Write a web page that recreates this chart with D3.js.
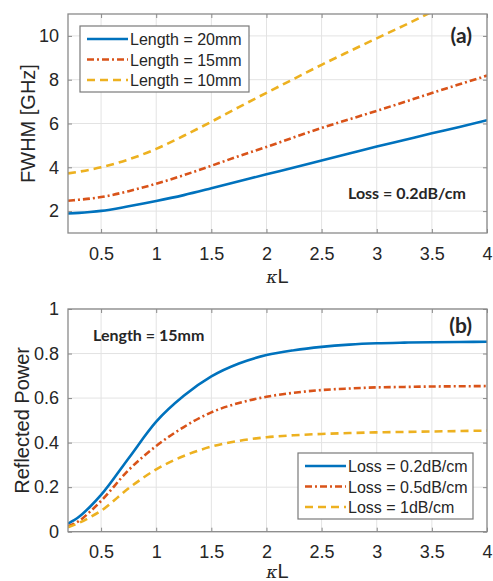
<!DOCTYPE html>
<html>
<head>
<meta charset="utf-8">
<script src="https://cdn.jsdelivr.net/npm/d3@7"></script>
<style>
  body { margin: 0; background: #fff; }
  text { font-family: "Liberation Sans", Arial, sans-serif; fill: #262626; }
</style>
</head>
<body>
<svg id="chart" width="493" height="581"></svg>
<script>
// kappa*L samples shared by every curve
var kL = [0.2, 0.3, 0.4, 0.5, 0.75, 1, 1.25, 1.5, 1.75, 2, 2.25, 2.5, 2.75, 3, 3.25, 3.5, 3.75, 4];
var xTicks = [0.5, 1, 1.5, 2, 2.5, 3, 3.5, 4];

// (a) FWHM [GHz], loss 0.2dB/cm
var fwhm20 = [1.89, 1.92, 1.96, 2.01, 2.22, 2.46, 2.73, 3.04, 3.36, 3.68, 3.99, 4.31, 4.63, 4.95, 5.25, 5.55, 5.84, 6.15];
var fwhm15 = [2.47, 2.52, 2.57, 2.64, 2.91, 3.25, 3.64, 4.07, 4.51, 4.93, 5.37, 5.80, 6.19, 6.58, 6.98, 7.39, 7.79, 8.19];
var fwhm10 = [3.72, 3.80, 3.89, 4.00, 4.36, 4.84, 5.44, 6.08, 6.75, 7.40, 8.04, 8.68, 9.29, 9.89, 10.48, 11.1, 11.7, 12.3];
var fwhmTicks = [2, 4, 6, 8, 10];
var lengthNames = ["Length = 20mm", "Length = 15mm", "Length = 10mm"];

// (b) reflected power, length 15mm
var pow02 = [0.036, 0.067, 0.112, 0.165, 0.330, 0.494, 0.610, 0.697, 0.755, 0.793, 0.815, 0.830, 0.840, 0.846, 0.849, 0.851, 0.852, 0.853];
var pow05 = [0.024, 0.048, 0.090, 0.138, 0.277, 0.385, 0.470, 0.536, 0.578, 0.606, 0.624, 0.636, 0.643, 0.648, 0.650, 0.652, 0.653, 0.654];
var pow1  = [0.020, 0.040, 0.065, 0.094, 0.195, 0.280, 0.340, 0.382, 0.408, 0.424, 0.433, 0.439, 0.443, 0.446, 0.448, 0.450, 0.452, 0.454];
var powTicks = [0, 0.2, 0.4, 0.6, 0.8, 1];
var lossNames = ["Loss = 0.2dB/cm", "Loss = 0.5dB/cm", "Loss = 1dB/cm"];

var colors = ["#0072BD", "#D95319", "#EDB120"];
var dashes = [null, "7,3,2,3", "8,5"];

var svg = d3.select("#chart");

//draws one framed panel with grid, ticks, curves and clip
function makePanel(opt){
	var x = d3.scaleLinear().domain([0.2, 4]).range([68, 487]);
	var y = d3.scaleLinear().domain(opt.yDomain).range([opt.bottom, opt.top]);
	var g = svg.append("g");

	g.append("clipPath").attr("id", opt.id)
	.append("rect")
	.attr("x", x.range()[0]).attr("y", opt.top)
	.attr("width", x.range()[1] - x.range()[0])
	.attr("height", opt.bottom - opt.top);

	//grid lines
	g.selectAll(".vgrid").data(xTicks).enter().append("line")
	.attr("x1", d => x(d)).attr("x2", d => x(d))
	.attr("y1", opt.top).attr("y2", opt.bottom)
	.attr("stroke", "#e3e3e3").attr("stroke-width", 1);
	g.selectAll(".hgrid").data(opt.yTicks).enter().append("line")
	.attr("x1", 68).attr("x2", 487)
	.attr("y1", d => y(d)).attr("y2", d => y(d))
	.attr("stroke", "#e3e3e3").attr("stroke-width", 1);

	//axes, ticks point inwards like matlab
	var bottomAxis = d3.axisBottom(x).tickValues(xTicks).tickSizeInner(-4).tickSizeOuter(0).tickPadding(14).tickFormat(d3.format("~g"));
	var leftAxis = d3.axisLeft(y).tickValues(opt.yTicks).tickSizeInner(-4).tickSizeOuter(0).tickPadding(9).tickFormat(d3.format("~g"));
	var ax = g.append("g").attr("transform", "translate(0," + opt.bottom + ")").call(bottomAxis);
	var ay = g.append("g").attr("transform", "translate(68,0)").call(leftAxis);
	g.append("g").attr("transform", "translate(0," + opt.top + ")")
	.call(d3.axisTop(x).tickValues(xTicks).tickSizeInner(-4).tickSizeOuter(0).tickFormat(""));
	g.append("g").attr("transform", "translate(487,0)")
	.call(d3.axisRight(y).tickValues(opt.yTicks).tickSizeInner(-4).tickSizeOuter(0).tickFormat(""));
	g.selectAll(".domain").remove();
	g.selectAll(".tick line").attr("stroke", "#8a8a8a");
	[ax, ay].forEach(function(a){
		a.selectAll("text").style("font-size", "18px").attr("fill", "#262626")
		.style("font-family", "'Liberation Sans', Arial, sans-serif");
	});

	//curves
	var line = d3.line().x((d, i) => x(kL[i])).y(d => y(d)).curve(d3.curveMonotoneX);
	g.append("g").attr("clip-path", "url(#" + opt.id + ")")
	.selectAll("path").data(opt.series).enter().append("path")
	.attr("d", d => line(d))
	.attr("fill", "none")
	.attr("stroke", (d, i) => colors[i])
	.attr("stroke-width", 2.6)
	.attr("stroke-dasharray", (d, i) => dashes[i]);

	//frame
	g.append("rect")
	.attr("x", 68).attr("y", opt.top)
	.attr("width", 419).attr("height", opt.bottom - opt.top)
	.attr("fill", "none").attr("stroke", "#8a8a8a").attr("stroke-width", 1.3);

	//y label
	g.append("text")
	.attr("transform", "translate(" + opt.yLabelX + "," + (opt.top + opt.bottom) / 2 + ") rotate(-90)")
	.attr("text-anchor", "middle")
	.style("font-size", "20px")
	.text(opt.yLabel);

	//x label kappa L
	var xl = g.append("text")
	.attr("x", 277.5).attr("y", opt.xLabelY)
	.attr("text-anchor", "middle")
	.style("font-size", "20px");
	xl.append("tspan").style("font-family", "'DejaVu Serif', serif").style("font-style", "italic").style("font-size", "17px").text("κ");
	xl.append("tspan").text("L");

	//legend
	var lg = g.append("g").attr("transform", "translate(" + opt.legend.x + "," + opt.legend.y + ")");
	lg.append("rect")
	.attr("width", opt.legend.w).attr("height", 66)
	.attr("fill", "#fff").attr("stroke", "#7a7a7a").attr("stroke-width", 1.2);
	opt.names.forEach(function(name, i){
		var ry = 13 + i * 20.5;
		lg.append("line")
		.attr("x1", 7).attr("x2", 48).attr("y1", ry).attr("y2", ry)
		.attr("stroke", colors[i]).attr("stroke-width", 2.6)
		.attr("stroke-dasharray", dashes[i]);
		lg.append("text")
		.attr("x", 50).attr("y", ry + 6)
		.style("font-size", "16px")
		.text(name);
	});

	//bold notes
	opt.notes.forEach(function(n){
		g.append("text")
		.attr("x", n.x).attr("y", n.y)
		.attr("text-anchor", n.anchor || "start")
		.style("font-family", "Lato, 'Liberation Sans', sans-serif")
		.style("font-weight", "bold")
		.style("font-size", n.size + "px")
		.attr("fill", "#111")
		.text(n.text);
	});
}

makePanel({
	id: "clipA", top: 14, bottom: 233,
	yDomain: [1, 11], yTicks: fwhmTicks,
	series: [fwhm20, fwhm15, fwhm10],
	yLabel: "FWHM [GHz]", yLabelX: 35,
	xLabelY: 283,
	names: lengthNames,
	legend: {x: 80, y: 26, w: 169},
	notes: [
		{text: "(a)", x: 472, y: 43, anchor: "end", size: 21},
		{text: "Loss = 0.2dB/cm", x: 348, y: 199, size: 16}
	]
});

makePanel({
	id: "clipB", top: 309, bottom: 531.7,
	yDomain: [0, 1], yTicks: powTicks,
	series: [pow02, pow05, pow1],
	yLabel: "Reflected Power", yLabelX: 29,
	xLabelY: 578,
	names: lossNames,
	legend: {x: 298, y: 453, w: 175},
	notes: [
		{text: "(b)", x: 472, y: 333, anchor: "end", size: 21},
		{text: "Length = 15mm", x: 93, y: 341, size: 16}
	]
});
</script>
</body>
</html>
